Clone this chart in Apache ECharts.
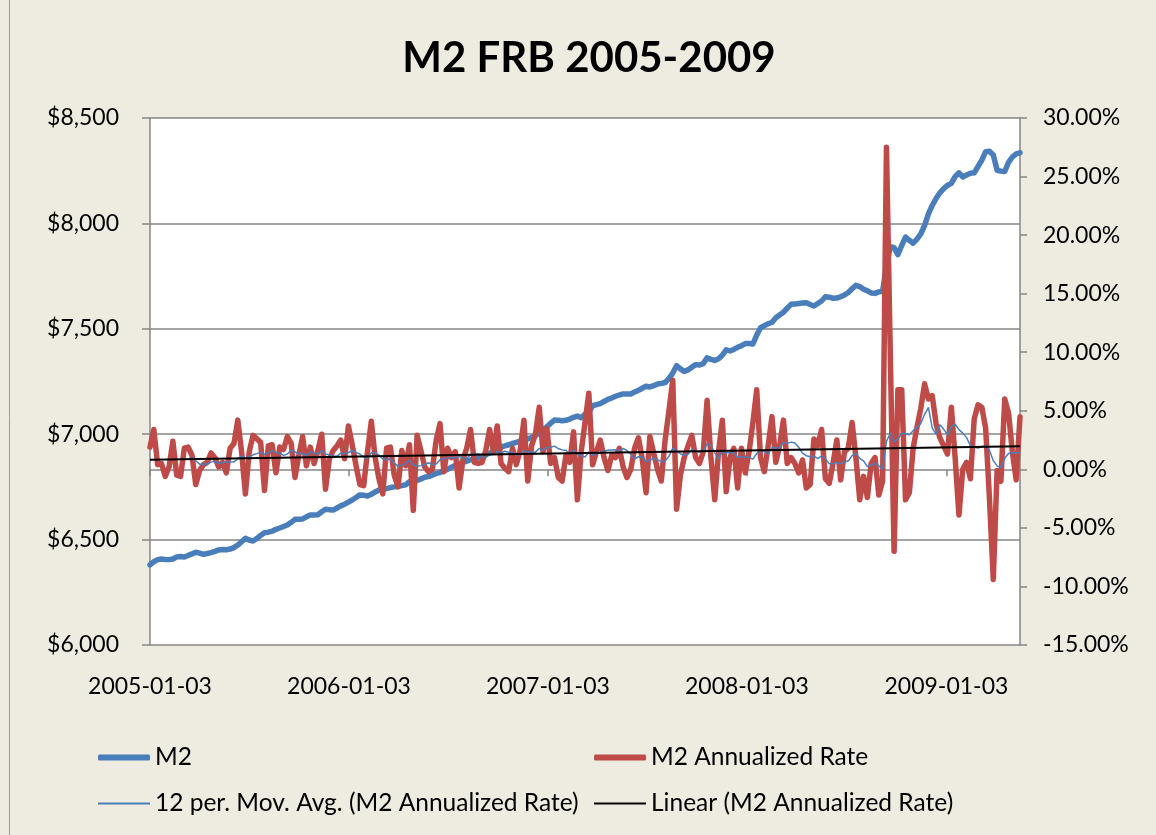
<!DOCTYPE html>
<html>
<head>
<meta charset="utf-8">
<script src="https://cdn.jsdelivr.net/npm/echarts@6/dist/echarts.min.js"></script>
<style>
html, body { margin: 0; padding: 0; background: #EEECE1; }
#chart { width: 1156px; height: 835px; }
</style>
</head>
<body>
<div id="chart"></div>
<script>
// M2 FRB weekly, first week 2005-01-03
var startDay = '2005-01-03';
var tickLabels = ['2005-01-03', '2006-01-03', '2007-01-03', '2008-01-03', '2009-01-03'];

// M2 ($ billions), one value per week
var m2 = [
  6380, 6395, 6405, 6408, 6406, 6405, 6408, 6418, 6420, 6417,
  6425, 6432, 6440, 6436, 6430, 6434, 6438, 6444, 6451, 6453,
  6452, 6455, 6462, 6474, 6490, 6506, 6498, 6493, 6505, 6520,
  6533, 6535, 6540, 6549, 6555, 6562, 6569, 6582, 6596, 6597,
  6598, 6608, 6617, 6617, 6618, 6632, 6644, 6642, 6640, 6650,
  6660, 6668, 6678, 6688, 6700, 6712, 6710, 6707, 6715, 6726,
  6735, 6738, 6742, 6747, 6750, 6753, 6756, 6760, 6775, 6780,
  6781, 6788, 6796, 6799, 6806, 6814, 6818, 6826, 6834, 6843,
  6852, 6860, 6866, 6872, 6878, 6883, 6888, 6896, 6904, 6911,
  6918, 6926, 6937, 6945, 6950, 6956, 6961, 6967, 6972, 6978,
  6984, 6994, 7005, 7018, 7035, 7052, 7067, 7066, 7064, 7066,
  7072, 7080, 7086, 7078, 7095, 7105, 7135, 7140, 7145, 7155,
  7165, 7172, 7180, 7186, 7191, 7191, 7191, 7200, 7208, 7218,
  7228, 7224, 7230, 7238, 7241, 7245, 7265, 7290, 7325, 7310,
  7298, 7305, 7318, 7330, 7328, 7335, 7362, 7355, 7350, 7358,
  7375, 7400, 7395, 7402, 7412, 7420, 7430, 7430, 7428, 7470,
  7505, 7515, 7524, 7530, 7552, 7565, 7578, 7598, 7616, 7618,
  7620, 7622, 7624, 7615, 7608, 7620, 7632, 7652, 7650, 7645,
  7646, 7652, 7660, 7672, 7690, 7706, 7700, 7688, 7680, 7670,
  7668, 7675, 7678, 7800, 7890, 7885, 7852, 7895, 7935, 7920,
  7906, 7925, 7950, 7990, 8045, 8085, 8118, 8145, 8165, 8180,
  8190, 8222, 8240, 8220, 8230, 8238, 8240, 8270, 8300, 8340,
  8342, 8325, 8252, 8248, 8246, 8290, 8315, 8330, 8335
];

// M2 annualized rate (%), one value per week
var rate = [
  1.9, 3.4, 0.4, 0.5, -0.6, 0.2, 2.4, -0.5, -0.6, 1.8,
  1.9, 1.2, -1.3, -0.1, 0.4, 0.6, 1.4, 1.0, 0.2, 0.6,
  -0.3, 1.8, 2.2, 4.2, 1.5, -2.1, 1.5, 2.9, 2.6, 2.3,
  -1.8, 2.0, 2.1, -0.3, 1.9, 1.7, 2.8, 2.2, -0.7, 1.2,
  2.8, 0.3, 1.9, 0.5, 1.6, 3.0, -1.7, 0.9, 1.6, 2.0,
  2.5, 0.9, 3.7, 2.1, 0.3, -1.3, -1.4, 1.5, 4.1, 1.0,
  -0.8, -2.1, 1.8, 1.9, -0.5, -1.5, 1.6, 0.3, 2.1, -3.5,
  2.9, 1.6, 0.2, -0.2, 0.0, 2.5, 3.9, -0.2, 1.8, 1.0,
  1.5, -1.6, 0.8, 1.8, 3.4, 0.6, 0.5, 0.6, 1.6, 3.4,
  1.5, 3.7, 0.5, 0.1, -0.2, 1.8, 0.4, 1.6, 4.2, -1.0,
  2.0, 3.0, 5.3, 1.5, 3.5, 0.5, 1.0, -0.7, -1.0, 1.2,
  0.6, 3.2, -2.6, 1.5, 4.0, 6.5, 0.4, 1.5, 2.5, 1.0,
  -0.1, 1.2, 1.0, 1.8, 0.2, -0.7, 0.0, 1.8, 2.7, 0.9,
  -2.0, 2.8, 1.4, 0.0, -1.0, 2.5, 5.0, 7.6, -3.4, -0.5,
  1.0, 2.0, 2.9, 1.0, 0.5, 1.5, 5.9, 1.0, -2.6, 1.5,
  4.2, -1.9, 1.0, 1.8, -1.6, 1.8, -0.3, 1.5, 4.0, 6.8,
  1.0, -0.2, 2.0, 4.5, 0.6, 2.0, 4.2, 0.5, 1.0, 0.5,
  -0.3, 0.8, -1.6, -1.3, 2.6, 2.0, 3.4, -0.8, -1.2, 0.5,
  2.5, -0.9, 1.5, 1.8, 4.0, 1.0, -2.6, -0.6, -2.4, 0.5,
  1.0, -2.2, -1.0, 27.5, 10.0, -7.0, 6.8, 6.8, -2.6, -2.0,
  1.8, 3.6, 5.2, 7.3, 6.0, 6.3, 3.9, 2.7, 2.0, 1.3,
  5.3, 1.0, -3.9, 0.0, 0.6, -0.8, 4.3, 5.5, 5.3, 3.5,
  -2.5, -9.4, -0.1, -1.0, 6.0, 4.8, 1.5, -0.9, 4.5
];

var DAY = 86400000;
function parseDay(s) {
  var p = s.split('-');
  return Date.UTC(+p[0], +p[1] - 1, +p[2]);
}
var t0 = parseDay(startDay);
// x is counted in days from the first week
var days = m2.map(function (v, i) { return i * 7; });
var tickDays = tickLabels.map(function (s) { return Math.round((parseDay(s) - t0) / DAY); });

var m2Data = m2.map(function (v, i) { return [days[i], v]; });
var rateData = rate.map(function (v, i) { return [days[i], v]; });

// 12 per. moving average of the rate
var maData = [];
for (var i = 11; i < rate.length; i++) {
  var s = 0;
  for (var j = i - 11; j <= i; j++) s += rate[j];
  maData.push([days[i], s / 12]);
}

// linear trend of the rate (least squares)
var n = rate.length, sx = 0, sy = 0, sxx = 0, sxy = 0;
rate.forEach(function (v, k) { sx += k; sy += v; sxx += k * k; sxy += k * v; });
var slope = (n * sxy - sx * sy) / (n * sxx - sx * sx);
var icpt = (sy - slope * sx) / n;
var trendData = [[days[0], icpt], [days[n - 1], icpt + slope * (n - 1)]];

var font = 'Lato';
var axisGray = '#868686';

var myChart = echarts.init(document.getElementById('chart'), null, { renderer: 'canvas' });

var option = {
  backgroundColor: '#EEECE1',
  animation: false,
  title: {
    text: 'M2 FRB 2005-2009',
    left: 584,
    top: 32,
    textAlign: 'center',
    textStyle: { fontFamily: font, fontSize: 42, fontWeight: 'bold', color: '#000' }
  },
  graphic: [{
    type: 'line',
    shape: { x1: 9.5, y1: 0, x2: 9.5, y2: 835 },
    style: { stroke: '#9a9a9a', lineWidth: 1 }
  }],
  legend: [
    { data: ['M2'], left: 98, top: 745 },
    { data: ['M2 Annualized Rate'], left: 594, top: 745 },
    { data: ['12 per. Mov. Avg. (M2 Annualized Rate)'], left: 98, top: 791 },
    { data: ['Linear (M2 Annualized Rate)'], left: 594, top: 791 }
  ].map(function (l, k) {
    return Object.assign(l, {
      padding: 0,
      itemWidth: 52,
      itemHeight: k < 2 ? 6 : 2,
      icon: k < 2 ? 'roundRect' : 'rect',
      textStyle: { fontFamily: font, fontSize: 24.5, color: '#000' }
    });
  }),
  grid: {
    left: 150, right: 136, top: 118, bottom: 190,
    show: true, backgroundColor: '#ffffff', borderWidth: 0,
    outerBoundsMode: 'none'
  },
  xAxis: {
    type: 'value',
    min: days[0],
    max: days[days.length - 1],
    axisLine: { lineStyle: { color: axisGray, width: 1.5 } },
    axisTick: { show: true, inside: false, length: 7, customValues: tickDays, lineStyle: { color: axisGray, width: 1.5 } },
    axisLabel: {
      customValues: tickDays,
      margin: 30,
      fontFamily: font, fontSize: 23, color: '#000',
      formatter: function (v) {
        var k = tickDays.indexOf(v);
        return k >= 0 ? tickLabels[k] : '';
      }
    },
    splitLine: { show: false }
  },
  yAxis: [{
    type: 'value',
    min: 6000, max: 8500, interval: 500,
    axisLine: { show: true, lineStyle: { color: axisGray, width: 1.5 } },
    axisTick: { show: true, length: 8, lineStyle: { color: axisGray, width: 1.5 } },
    axisLabel: {
      margin: 31, fontFamily: font, fontSize: 23, color: '#000',
      formatter: function (v) { return '$' + v.toLocaleString('en-US'); }
    },
    splitLine: { show: true, lineStyle: { color: axisGray, width: 1.5 } }
  }, {
    type: 'value',
    min: -15, max: 30, interval: 5,
    position: 'right',
    axisLine: { show: true, lineStyle: { color: axisGray, width: 1.5 } },
    axisTick: { show: true, length: 7, lineStyle: { color: axisGray, width: 1.5 } },
    axisLabel: {
      margin: 23, fontFamily: font, fontSize: 23, color: '#000',
      formatter: function (v) { return v.toFixed(2) + '%'; }
    },
    splitLine: { show: false }
  }],
  series: [{
    name: 'M2',
    type: 'line',
    yAxisIndex: 0,
    data: m2Data,
    showSymbol: false,
    symbol: 'none',
    color: '#4A7EBB',
    lineStyle: { width: 5.5, color: '#4A7EBB', cap: 'round', join: 'round' },
    z: 2
  }, {
    name: 'M2 Annualized Rate',
    type: 'line',
    yAxisIndex: 1,
    data: rateData,
    showSymbol: false,
    symbol: 'none',
    color: '#BE4B48',
    lineStyle: { width: 5.5, color: '#BE4B48', cap: 'round', join: 'round' },
    z: 3
  }, {
    name: '12 per. Mov. Avg. (M2 Annualized Rate)',
    type: 'line',
    yAxisIndex: 1,
    data: maData,
    showSymbol: false,
    symbol: 'none',
    color: '#4A7EBB',
    lineStyle: { width: 1.5, color: '#4A7EBB' },
    z: 4
  }, {
    name: 'Linear (M2 Annualized Rate)',
    type: 'line',
    yAxisIndex: 1,
    data: trendData,
    showSymbol: false,
    symbol: 'none',
    color: '#000',
    lineStyle: { width: 2, color: '#000' },
    z: 5
  }]
};

myChart.setOption(option);
</script>
</body>
</html>
